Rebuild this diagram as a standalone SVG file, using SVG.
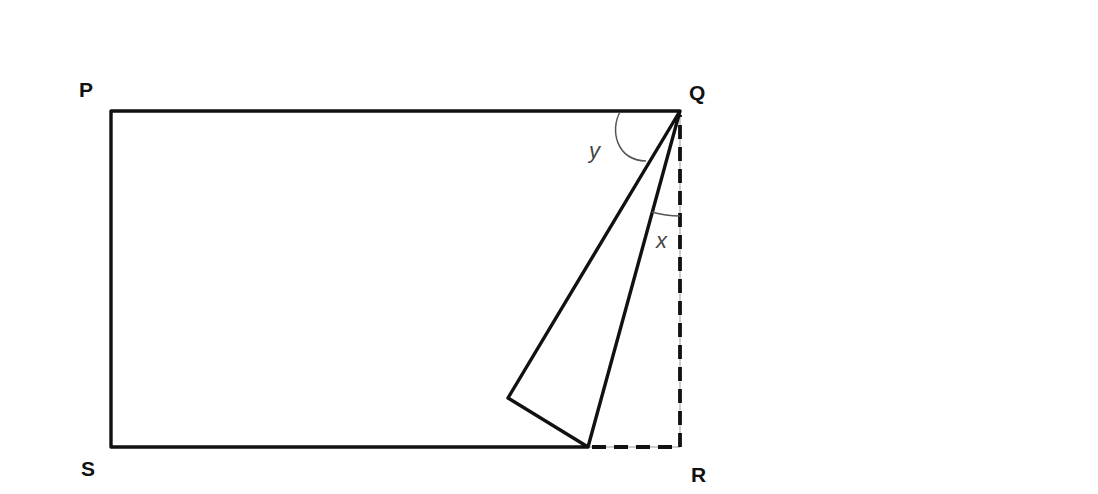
<svg xmlns="http://www.w3.org/2000/svg" width="1098" height="494" viewBox="0 0 1098 494">
<style>
.ln{fill:none;stroke:#111;stroke-width:3.4;stroke-linejoin:round;stroke-linecap:round}
.ds{fill:none;stroke:#111;stroke-width:3.8;stroke-dasharray:14 8}
.thin{fill:none;stroke:#999;stroke-width:1}
.arc{fill:none;stroke:#555;stroke-width:1.5}
.lb{font-family:"Liberation Sans",Arial,sans-serif;font-weight:bold;font-size:21px;fill:#111}
.ag{font-family:"Liberation Sans",Arial,sans-serif;font-style:italic;font-size:22px;fill:#444}
</style>
<rect width="1098" height="494" fill="#fff"/>
<g id="connectors">
<path class="thin" d="M588 447 H680 V111"/>
<path class="ds" d="M592 447 H680 V115"/>
<path class="ln" d="M680 111 H111 V447 H588 L508 398 L680 111 L588 447"/>
<path class="arc" d="M620 112 C610 130 616 160 646 161"/>
<path class="arc" d="M652 212 A105 105 0 0 0 680 216"/>
</g>
<g id="P"><text class="lb" x="79" y="97">P</text></g>
<g id="Q"><text class="lb" x="689" y="100">Q</text></g>
<g id="S"><text class="lb" x="81" y="476">S</text></g>
<g id="R"><text class="lb" x="691" y="482">R</text></g>
<g id="angle-y"><text class="ag" x="589" y="158">y</text></g>
<g id="angle-x"><text class="ag" x="656" y="248">x</text></g>
</svg>
